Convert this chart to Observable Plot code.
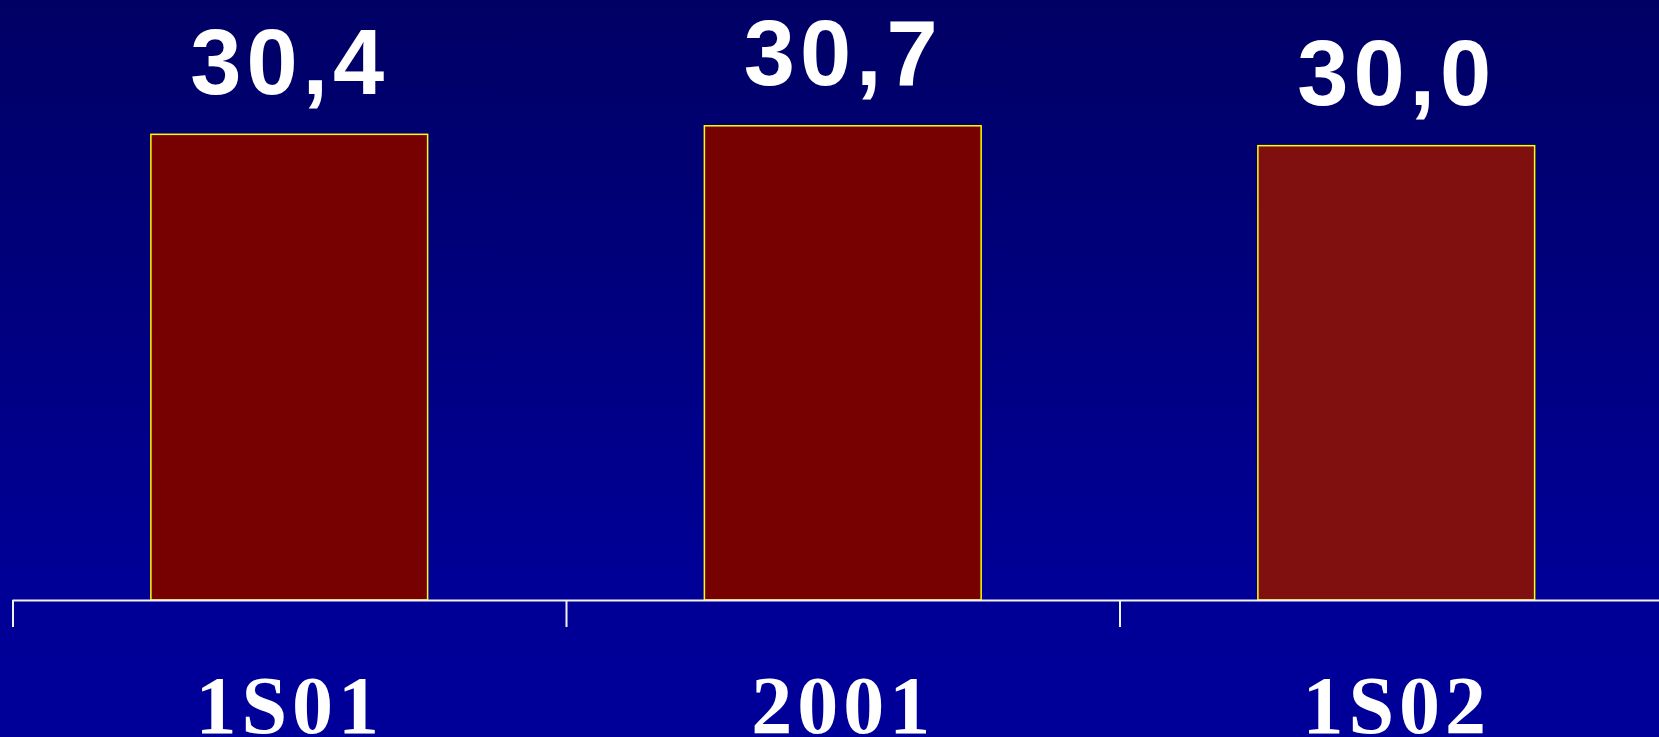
<!DOCTYPE html>
<html>
<head>
<meta charset="utf-8">
<script src="https://cdn.jsdelivr.net/npm/d3@7"></script>
<script src="https://cdn.jsdelivr.net/npm/@observablehq/plot@0.6"></script>
<style>
html, body {
  margin: 0; padding: 0; width: 1659px; height: 737px; overflow: hidden;
  background: linear-gradient(to bottom, #000064 0%, #000096 78%, #000099 100%);
}
#chart svg { display: block; background: transparent; overflow: hidden; }
#chart svg text { letter-spacing: 5px; }
</style>
</head>
<body>
<div id="chart"></div>
<script>
// ---- data ----
const categories = ["1S01", "2001", "1S02"];
const values = [30.4, 30.7, 30.0];
const yDomain = [14.0, 35.13];   // value axis origin / top implied by the bar heights

// ---- build ----
const data = categories.map((c, i) => ({category: c, value: values[i]}));
const fmt = d3.formatLocale({decimal: ",", thousands: ".", grouping: [3], currency: ["", ""]}).format(".1f");

const W = 1659, H = 737;
const xRange = [12.5, 1673];
const halfStep = (xRange[1] - xRange[0]) / categories.length / 2;
const yMin = yDomain[0];

const plot = Plot.plot({
  width: W,
  height: H,
  marginTop: 0,
  marginBottom: 137,
  marginLeft: 12.5,
  marginRight: 0,
  style: {background: "transparent", overflow: "hidden"},
  x: {type: "band", domain: categories, range: xRange, paddingInner: 0.5, paddingOuter: 0.25, round: false, axis: null},
  y: {domain: yDomain, axis: null},
  color: {domain: categories, range: ["#770000", "#770000", "#801010"]},
  marks: [
    Plot.barY(data, {x: "category", y1: yMin, y2: "value", fill: "category", stroke: "#ffff00", strokeWidth: 1.5}),
    Plot.ruleY([yMin], {stroke: "#f2f2f2", strokeWidth: 2}),
    Plot.ruleX(categories, {x: d => d, y1: yMin, y2: yMin, dx: -halfStep, insetBottom: -27, stroke: "#f2f2f2", strokeWidth: 2}),
    Plot.text(data, {
      x: "category", y: "value", text: d => fmt(d.value),
      lineAnchor: "bottom", dy: -41, fill: "white",
      fontSize: 92, fontWeight: "bold", fontFamily: "'Liberation Sans', Arial, sans-serif"
    }),
    Plot.text(categories, {
      x: d => d, text: d => d, frameAnchor: "bottom", lineAnchor: "bottom", dy: 132, fill: "white",
      fontSize: 82, fontWeight: "bold", fontFamily: "'Liberation Serif', 'Times New Roman', serif"
    })
  ]
});
document.getElementById("chart").appendChild(plot);
</script>
</body>
</html>
